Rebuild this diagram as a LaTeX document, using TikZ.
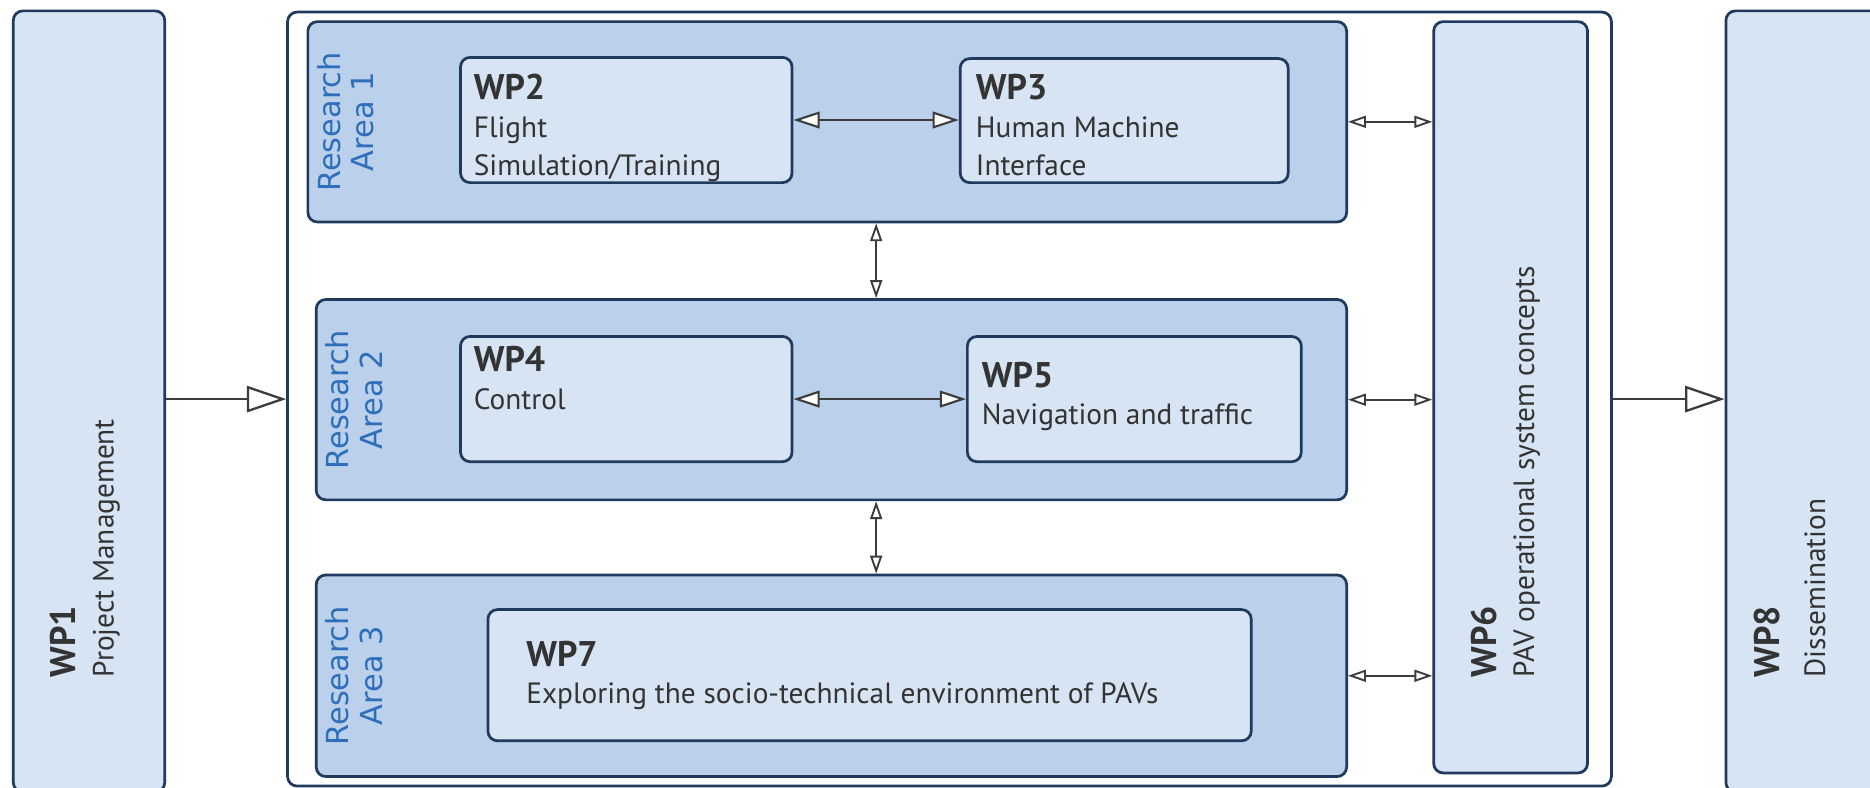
\documentclass[tikz,border=0pt]{standalone}
\usepackage{fontspec}
\setmainfont{PT Sans}
\newfontfamily\areafont{DejaVu Sans}
\usetikzlibrary{arrows.meta,calc}

\definecolor{wpfill}{RGB}{214,228,243}
\definecolor{areafill}{RGB}{186,208,235}
\definecolor{boxline}{RGB}{31,58,92}
\definecolor{areablue}{RGB}{46,110,186}
\definecolor{textgrey}{RGB}{51,51,51}
\definecolor{arrowgrey}{RGB}{60,60,60}

\tikzset{
  panel/.style={draw=boxline, line width=1.3pt, rounded corners=0.16cm, anchor=north west, inner sep=0},
  wpbox/.style={panel, fill=wpfill},
  areabox/.style={panel, fill=areafill},
  wptext/.style={anchor=north west, inner sep=0, align=left, text=textgrey, font=\fontsize{14}{18}\selectfont},
  arealabel/.style={rotate=90, align=center, inner sep=0, text=areablue, font=\areafont\fontsize{14.5}{16}\selectfont},
  bigarrow/.style={draw=arrowgrey, line width=1.1pt, -{Triangle[length=0.66cm,width=0.44cm,fill=white]}},
  link/.style={draw=arrowgrey, line width=1pt, {Triangle[length=0.44cm,width=0.28cm,fill=white]}-{Triangle[length=0.44cm,width=0.28cm,fill=white]}},
  smalllink/.style={draw=arrowgrey, line width=0.9pt, {Triangle[length=0.3cm,width=0.2cm,fill=white]}-{Triangle[length=0.3cm,width=0.2cm,fill=white]}},
}
\newcommand{\wptitle}[1]{{\fontsize{17}{20}\selectfont\bfseries #1}}

\begin{document}
\begin{tikzpicture}

	\useasboundingbox (0,0) rectangle (31.36,13.2);

	% outer work packages
	\node[wpbox, minimum width=2.54cm, minimum height=13.1cm] (wp1) at (0.2,13.04) {};
	\node[wpbox, minimum width=2.8cm, minimum height=13.1cm] (wp8) at (28.92,13.04) {};
	\node[panel, fill=white, minimum width=22.2cm, minimum height=12.98cm] (frame) at (4.8,13.02) {};
	\node[wpbox, minimum width=2.58cm, minimum height=12.6cm] (wp6) at (24.02,12.86) {};

	% research areas
	\node[areabox, minimum width=17.42cm, minimum height=3.36cm] (ra1) at (5.14,12.86) {};
	\node[areabox, minimum width=17.28cm, minimum height=3.36cm] (ra2) at (5.28,8.2) {};
	\node[areabox, minimum width=17.28cm, minimum height=3.38cm] (ra3) at (5.28,3.58) {};

	\node[arealabel] (ra1label) at ([xshift=0.66cm]ra1.west) {Research\\Area 1};
	\node[arealabel] (ra2label) at ([xshift=0.66cm]ra2.west) {Research\\Area 2};
	\node[arealabel] (ra3label) at ([xshift=0.66cm]ra3.west) {Research\\Area 3};

	% inner work packages
	\node[wpbox, minimum width=5.56cm, minimum height=2.1cm] (wp2) at (7.7,12.26) {};
	\node[wpbox, minimum width=5.5cm, minimum height=2.08cm] (wp3) at (16.08,12.24) {};
	\node[wpbox, minimum width=5.56cm, minimum height=2.1cm] (wp4) at (7.7,7.58) {};
	\node[wpbox, minimum width=5.6cm, minimum height=2.1cm] (wp5) at (16.2,7.58) {};
	\node[wpbox, minimum width=12.8cm, minimum height=2.2cm] (wp7) at (8.16,3.0) {};

	\node[wptext] (wp2text) at ([shift={(0.24,-0.3)}]wp2.north west) {\wptitle{WP2}\\Flight\\Simulation/Training};
	\node[wptext] (wp3text) at ([shift={(0.28,-0.28)}]wp3.north west) {\wptitle{WP3}\\Human Machine\\Interface};
	\node[wptext] (wp4text) at ([shift={(0.24,-0.18)}]wp4.north west) {\wptitle{WP4}\\Control};
	\node[wptext] (wp5text) at ([shift={(0.26,-0.44)}]wp5.north west) {\wptitle{WP5}\\Navigation and traffic};
	\node[wptext] (wp7text) at ([shift={(0.66,-0.54)}]wp7.north west) {\wptitle{WP7}\\Exploring the socio-technical environment of PAVs};

	\node[wptext, rotate=90] (wp1text) at ([shift={(0.64,1.94)}]wp1.south west) {\wptitle{WP1}\\Project Management};
	\node[wptext, rotate=90] (wp6text) at ([shift={(0.64,1.62)}]wp6.south west) {\wptitle{WP6}\\PAV operational system concepts};
	\node[wptext, rotate=90] (wp8text) at ([shift={(0.48,1.94)}]wp8.south west) {\wptitle{WP8}\\[4pt]Dissemination};

	% connectors
	\draw[bigarrow] (frame.west -| wp1.east) -- (frame.west);
	\draw[bigarrow] (frame.east) -- (frame.east -| wp8.west);
	\draw[link] (wp2.east) -- (wp2.east -| wp3.west);
	\draw[link] (wp4.east) -- (wp4.east -| wp5.west);

	\coordinate (mid) at ($(wp2.east)!0.5!(wp3.west)$);
	\draw[smalllink] (ra1.south -| mid) -- (ra2.north -| mid);
	\draw[smalllink] (ra2.south -| mid) -- (ra3.north -| mid);
	\draw[smalllink] (ra1.east) -- (ra1.east -| wp6.west);
	\draw[smalllink] (ra2.east) -- (ra2.east -| wp6.west);
	\draw[smalllink] (ra3.east) -- (ra3.east -| wp6.west);

\end{tikzpicture}
\end{document}
